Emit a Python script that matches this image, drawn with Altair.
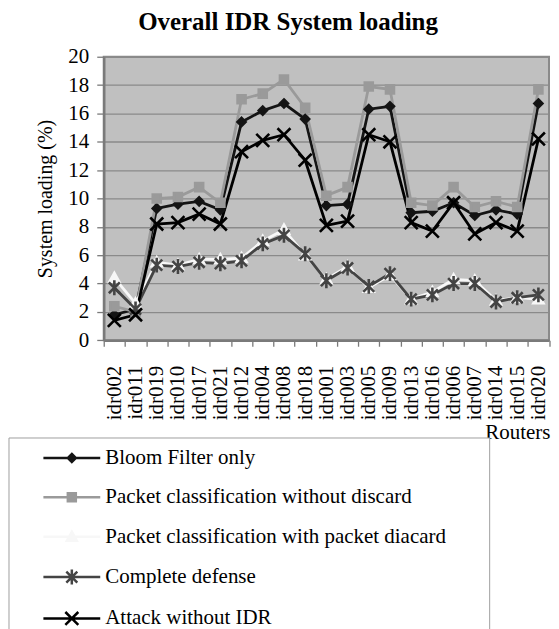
import altair as alt
import pandas as pd

routers = ["idr002", "idr011", "idr019", "idr010", "idr017", "idr021", "idr012",
           "idr004", "idr008", "idr018", "idr001", "idr003", "idr005", "idr009",
           "idr013", "idr016", "idr006", "idr007", "idr014", "idr015", "idr020"]

series_names = ["Bloom Filter only",
                "Packet classification without discard",
                "Packet classification with packet diacard",
                "Complete defense",
                "Attack without IDR"]

bloom_filter_only = [1.8, 2.2, 9.3, 9.6, 9.8, 9.2, 15.4, 16.2, 16.7, 15.6, 9.5,
                     9.6, 16.3, 16.5, 9.0, 9.1, 9.7, 8.8, 9.2, 8.9, 16.7]
without_discard = [2.4, 2.0, 10.0, 10.1, 10.8, 9.7, 17.0, 17.4, 18.4, 16.4, 10.2,
                   10.8, 17.9, 17.7, 9.7, 9.5, 10.8, 9.4, 9.8, 9.4, 17.7]
with_discard = [4.4, 2.6, 5.5, 5.3, 5.7, 5.7, 5.8, 7.0, 7.8, 6.0, 4.3,
                5.2, 3.7, 4.6, 2.9, 3.4, 4.3, 4.2, 2.8, 3.0, 2.9]
complete_defense = [3.7, 2.2, 5.3, 5.2, 5.5, 5.4, 5.6, 6.8, 7.4, 6.1, 4.2,
                    5.1, 3.8, 4.7, 2.9, 3.2, 4.0, 4.0, 2.7, 3.0, 3.2]
attack_without_idr = [1.4, 1.8, 8.2, 8.3, 8.9, 8.2, 13.3, 14.1, 14.5, 12.7, 8.1,
                      8.4, 14.5, 14.0, 8.3, 7.7, 9.7, 7.5, 8.3, 7.7, 14.2]

line_colors = ["#141414", "#9a9a9a", "#f7f7f7", "#444444", "#000000"]
marker_shapes = [
    "M0,-4L4,0L0,4L-4,0Z",
    "M-4,-4H4V4H-4Z",
    "M0,-5L5,4H-5Z",
    "M-5.5,-5.5L5.5,5.5M-5.5,5.5L5.5,-5.5M0,-7.5V7.5",
    "M-6.5,-6.5L6.5,6.5M-6.5,6.5L6.5,-6.5",
]
legend_shapes = ["M403.5,0M-28.5,0H28.5" + s for s in marker_shapes]

records = []
for name, values in zip(series_names, [bloom_filter_only, without_discard, with_discard,
                                       complete_defense, attack_without_idr]):
    for router, v in zip(routers, values):
        records.append({"Router": router, "Series": name, "Loading": v})
df = pd.DataFrame(records)

FONT = "Liberation Serif"

x = alt.X("Router:N", sort=routers, title="Routers",
          scale=alt.Scale(type="band", paddingInner=0, paddingOuter=0),
          axis=alt.Axis(labelAngle=-90, tickBand="extent", grid=False, tickSize=6,
                        labelPadding=19, labelFont=FONT, labelFontSize=21, labelColor="black",
                        titleFont=FONT, titleFontSize=21, titleColor="black",
                        titleFontWeight="normal",
                        titleX=447.5, titleY=99, titleAlign="right",
                        titleBaseline="alphabetic", titleAngle=0,
                        domainColor="#7a7a7a", domainWidth=2.5, tickColor="#7a7a7a",
                        tickWidth=1.3))
y = alt.Y("Loading:Q", title="System loading (%)",
          scale=alt.Scale(domain=[0, 20], nice=False),
          axis=alt.Axis(values=list(range(0, 21, 2)), tickSize=7, labelPadding=8,
                        labelFont=FONT, labelFontSize=21, labelColor="black",
                        titleFont=FONT, titleFontSize=20, titleColor="black",
                        titleFontWeight="normal", titlePadding=12,
                        grid=True, gridColor="#8a8a8a", gridWidth=1.3,
                        domainColor="#7a7a7a", domainWidth=2.5, tickColor="#7a7a7a",
                        tickWidth=1.3))

stroke_scale = alt.Scale(domain=series_names, range=line_colors)
fill_scale = alt.Scale(domain=series_names, range=line_colors)

lines = alt.Chart(df).mark_line(strokeWidth=2.8).encode(
    x=x, y=y,
    stroke=alt.Stroke("Series:N", scale=stroke_scale, legend=None),
)

points = alt.Chart(df).mark_point(filled=True, opacity=1, size=4, strokeWidth=2.6).encode(
    x=x, y=y,
    shape=alt.Shape("Series:N", scale=alt.Scale(domain=series_names, range=marker_shapes), legend=None),
    fill=alt.Fill("Series:N", scale=fill_scale, legend=None),
    stroke=alt.Stroke("Series:N", scale=stroke_scale, legend=None),
)

leg = alt.Legend(orient="none", legendX=-95.5, legendY=381.8, title=None,
                 direction="vertical", labelFont=FONT, labelFontSize=21,
                 labelColor="black", labelLimit=600, labelOffset=23, symbolOffset=43,
                 symbolSize=4, symbolStrokeWidth=2.5, rowPadding=17.5, padding=10,
                 strokeColor="#a0a0a0", fillColor="white")

legend_layer = alt.Chart(df).transform_filter("false").mark_point(
    filled=True, opacity=1, size=4, strokeWidth=2.5).encode(
    x=x, y=y,
    shape=alt.Shape("Series:N", scale=alt.Scale(domain=series_names, range=legend_shapes), legend=leg),
    fill=alt.Fill("Series:N", scale=fill_scale, legend=leg),
    stroke=alt.Stroke("Series:N", scale=stroke_scale, legend=leg),
)

chart = alt.layer(lines, points, legend_layer).resolve_scale(
    shape="independent", fill="independent", stroke="independent"
).properties(
    width=446.5, height=284.3,
    background="white",
    padding={"left": 0, "top": 0, "right": 0, "bottom": 0},
    title=alt.TitleParams("Overall IDR System loading", anchor="start", dx=34.5,
                          offset=-8.8, frame="group", baseline="alphabetic",
                          font=FONT, fontSize=25, fontWeight="bold", color="black"),
).configure_view(
    fill="#c0c0c0", stroke="#8a8a8a", strokeWidth=2
)

chart.save("out.html", embed_options={"renderer": "svg", "actions": False})
